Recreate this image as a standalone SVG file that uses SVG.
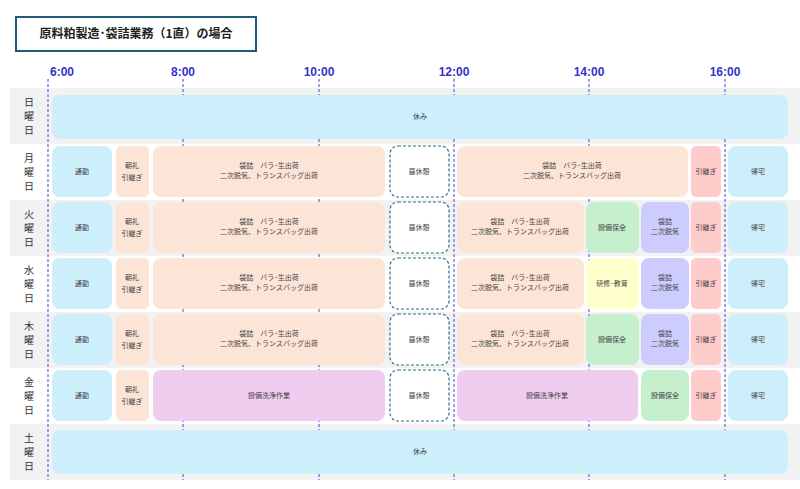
<svg xmlns="http://www.w3.org/2000/svg" width="800" height="489" viewBox="0 0 800 489">
<style>
text{font-family:"Noto Sans CJK JP","Noto Sans",sans-serif;fill:#444;font-size:7px;text-anchor:middle}
.day{font-size:10px;fill:#333}
.t{font-size:12px;font-weight:bold;fill:#3333cc;font-family:"Liberation Sans",sans-serif}
.b{fill:#cdeefb}.p{fill:#fce4d6}.r{fill:#ffcccc}.g{fill:#c6efce}.l{fill:#ccccff}.y{fill:#ffffcc}.m{fill:#f0cdee}
.w{fill:#fff;stroke:#2e6f8e;stroke-width:1.2;stroke-dasharray:3 2}
.grid{stroke:#4444dd;stroke-width:1;stroke-dasharray:3 2}
</style>
<rect width="800" height="489" fill="#fff"/>
<g id="title"><rect x="16" y="17" width="240" height="34" fill="#fff" stroke="#1f5a78" stroke-width="2"/><text x="136" y="38" style="font-size:12px;font-weight:bold;fill:#222">原料粕製造･袋詰業務（1直）の場合</text></g>
<g id="bands">
<rect x="10" y="88" width="790" height="56" fill="#f2f2f2"/>
<rect x="10" y="200" width="790" height="56" fill="#f2f2f2"/>
<rect x="10" y="312" width="790" height="56" fill="#f2f2f2"/>
<rect x="10" y="424" width="790" height="56" fill="#f2f2f2"/>
</g>
<g id="axis">
<text class="t" x="62" y="76">6:00</text><text class="t" x="183" y="76">8:00</text><text class="t" x="319" y="76">10:00</text><text class="t" x="454" y="76">12:00</text><text class="t" x="589" y="76">14:00</text><text class="t" x="725" y="76">16:00</text>
</g>
<g id="connectors">
<line class="grid" x1="48" y1="79" x2="48" y2="480"/><line class="grid" x1="183" y1="79" x2="183" y2="480"/><line class="grid" x1="319" y1="79" x2="319" y2="480"/><line class="grid" x1="454" y1="79" x2="454" y2="480"/><line class="grid" x1="589" y1="79" x2="589" y2="480"/><line class="grid" x1="725" y1="79" x2="725" y2="480"/>
</g>
<g id="days">
<text class="day" x="29" y="106">日</text><text class="day" x="29" y="120">曜</text><text class="day" x="29" y="134">日</text>
<text class="day" x="29" y="162">月</text><text class="day" x="29" y="176">曜</text><text class="day" x="29" y="190">日</text>
<text class="day" x="29" y="218">火</text><text class="day" x="29" y="232">曜</text><text class="day" x="29" y="246">日</text>
<text class="day" x="29" y="274">水</text><text class="day" x="29" y="288">曜</text><text class="day" x="29" y="302">日</text>
<text class="day" x="29" y="330">木</text><text class="day" x="29" y="344">曜</text><text class="day" x="29" y="358">日</text>
<text class="day" x="29" y="386">金</text><text class="day" x="29" y="400">曜</text><text class="day" x="29" y="414">日</text>
<text class="day" x="29" y="442">土</text><text class="day" x="29" y="456">曜</text><text class="day" x="29" y="470">日</text>
</g>
<g id="sun"><rect class="b" x="52" y="95" width="736" height="44" rx="8"/><text x="420" y="119">休み</text></g>
<g id="sat"><rect class="b" x="52" y="430" width="736" height="44" rx="8"/><text x="420" y="454">休み</text></g>
<g id="mon">
<rect class="b" x="52" y="146" width="60" height="51" rx="8"/><text x="82" y="174">通勤</text>
<rect class="p" x="116" y="146" width="33" height="51" rx="5"/><text x="132" y="168">朝礼</text><text x="132" y="180">引継ぎ</text>
<rect class="p" x="153" y="146" width="232" height="51" rx="8"/><text x="269" y="168">袋詰　バラ･生出荷</text><text x="269" y="178">二次脱気、トランスバッグ出荷</text>
<rect class="w" x="390" y="146" width="59" height="51" rx="8"/><text x="419" y="174">昼休憩</text>
<rect class="p" x="457" y="146" width="231" height="51" rx="8"/><text x="572" y="168">袋詰　バラ･生出荷</text><text x="572" y="178">二次脱気、トランスバッグ出荷</text>
<rect class="r" x="691" y="146" width="30" height="51" rx="5"/><text x="706" y="174">引継ぎ</text>
<rect class="b" x="728" y="146" width="60" height="51" rx="8"/><text x="758" y="174">帰宅</text>
</g>
<g id="tue">
<rect class="b" x="52" y="202" width="60" height="51" rx="8"/><text x="82" y="230">通勤</text>
<rect class="p" x="116" y="202" width="33" height="51" rx="5"/><text x="132" y="224">朝礼</text><text x="132" y="236">引継ぎ</text>
<rect class="p" x="153" y="202" width="232" height="51" rx="8"/><text x="269" y="224">袋詰　バラ･生出荷</text><text x="269" y="234">二次脱気、トランスバッグ出荷</text>
<rect class="w" x="390" y="202" width="59" height="51" rx="8"/><text x="419" y="230">昼休憩</text>
<rect class="p" x="457" y="202" width="127" height="51" rx="8"/><text x="520" y="224">袋詰　バラ･生出荷</text><text x="520" y="234">二次脱気、トランスバッグ出荷</text>
<rect class="g" x="586" y="202" width="53" height="51" rx="8"/><text x="612" y="230">設備保全</text>
<rect class="l" x="641" y="202" width="48" height="51" rx="8"/><text x="665" y="224">袋詰</text><text x="665" y="234">二次脱気</text>
<rect class="r" x="691" y="202" width="30" height="51" rx="5"/><text x="706" y="230">引継ぎ</text>
<rect class="b" x="728" y="202" width="60" height="51" rx="8"/><text x="758" y="230">帰宅</text>
</g>
<g id="wed">
<rect class="b" x="52" y="258" width="60" height="51" rx="8"/><text x="82" y="286">通勤</text>
<rect class="p" x="116" y="258" width="33" height="51" rx="5"/><text x="132" y="280">朝礼</text><text x="132" y="292">引継ぎ</text>
<rect class="p" x="153" y="258" width="232" height="51" rx="8"/><text x="269" y="280">袋詰　バラ･生出荷</text><text x="269" y="290">二次脱気、トランスバッグ出荷</text>
<rect class="w" x="390" y="258" width="59" height="51" rx="8"/><text x="419" y="286">昼休憩</text>
<rect class="p" x="457" y="258" width="127" height="51" rx="8"/><text x="520" y="280">袋詰　バラ･生出荷</text><text x="520" y="290">二次脱気、トランスバッグ出荷</text>
<rect class="y" x="586" y="258" width="53" height="51" rx="8"/><text x="612" y="286">研修･教育</text>
<rect class="l" x="641" y="258" width="48" height="51" rx="8"/><text x="665" y="280">袋詰</text><text x="665" y="290">二次脱気</text>
<rect class="r" x="691" y="258" width="30" height="51" rx="5"/><text x="706" y="286">引継ぎ</text>
<rect class="b" x="728" y="258" width="60" height="51" rx="8"/><text x="758" y="286">帰宅</text>
</g>
<g id="thu">
<rect class="b" x="52" y="314" width="60" height="51" rx="8"/><text x="82" y="342">通勤</text>
<rect class="p" x="116" y="314" width="33" height="51" rx="5"/><text x="132" y="336">朝礼</text><text x="132" y="348">引継ぎ</text>
<rect class="p" x="153" y="314" width="232" height="51" rx="8"/><text x="269" y="336">袋詰　バラ･生出荷</text><text x="269" y="346">二次脱気、トランスバッグ出荷</text>
<rect class="w" x="390" y="314" width="59" height="51" rx="8"/><text x="419" y="342">昼休憩</text>
<rect class="p" x="457" y="314" width="127" height="51" rx="8"/><text x="520" y="336">袋詰　バラ･生出荷</text><text x="520" y="346">二次脱気、トランスバッグ出荷</text>
<rect class="g" x="586" y="314" width="53" height="51" rx="8"/><text x="612" y="342">設備保全</text>
<rect class="l" x="641" y="314" width="48" height="51" rx="8"/><text x="665" y="336">袋詰</text><text x="665" y="346">二次脱気</text>
<rect class="r" x="691" y="314" width="30" height="51" rx="5"/><text x="706" y="342">引継ぎ</text>
<rect class="b" x="728" y="314" width="60" height="51" rx="8"/><text x="758" y="342">帰宅</text>
</g>
<g id="fri">
<rect class="b" x="52" y="370" width="60" height="51" rx="8"/><text x="82" y="398">通勤</text>
<rect class="p" x="116" y="370" width="33" height="51" rx="5"/><text x="132" y="392">朝礼</text><text x="132" y="404">引継ぎ</text>
<rect class="m" x="153" y="370" width="232" height="51" rx="8"/><text x="269" y="398">設備洗浄作業</text>
<rect class="w" x="390" y="370" width="59" height="51" rx="8"/><text x="419" y="398">昼休憩</text>
<rect class="m" x="457" y="370" width="181" height="51" rx="8"/><text x="547" y="398">設備洗浄作業</text>
<rect class="g" x="641" y="370" width="48" height="51" rx="8"/><text x="665" y="398">設備保全</text>
<rect class="r" x="691" y="370" width="30" height="51" rx="5"/><text x="706" y="398">引継ぎ</text>
<rect class="b" x="728" y="370" width="60" height="51" rx="8"/><text x="758" y="398">帰宅</text>
</g>
</svg>
